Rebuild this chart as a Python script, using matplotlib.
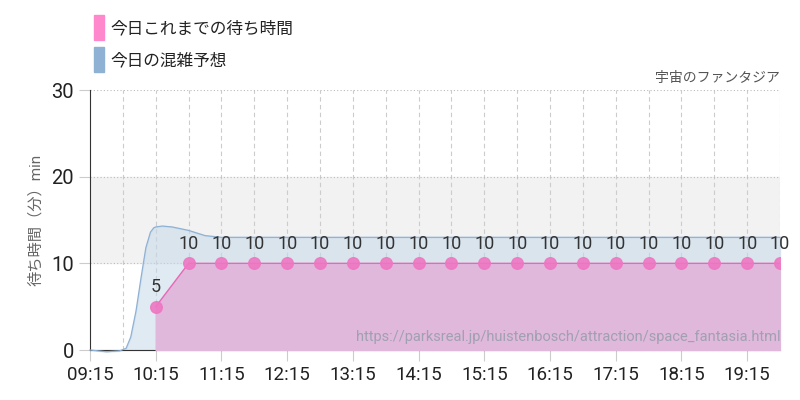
import matplotlib
matplotlib.use("Agg")
import matplotlib.pyplot as plt
import numpy as np
from matplotlib.patches import Rectangle

plt.rcParams['font.family'] = ['Roboto', 'Noto Sans CJK JP', 'DejaVu Sans']

# hours after 09:15
fc_x = [0, 0.25, 0.45, 0.55, 0.62, 0.7, 0.78, 0.85, 0.92, 0.97, 1.0, 1.1, 1.25, 1.5, 1.75, 2.0, 3, 4, 5, 6, 7, 8, 9, 10, 10.5]
fc_y = [0, -0.2, -0.1, 0.2, 1.5, 4.5, 8.5, 11.8, 13.6, 14.1, 14.2, 14.3, 14.2, 13.8, 13.2, 13, 13, 13, 13, 13, 13, 13, 13, 13, 13]
act_x = [1.0 + 0.5 * i for i in range(20)]
act_y = [5] + [10] * 19
tick_labels = ["09:15", "10:15", "11:15", "12:15", "13:15", "14:15", "15:15",
               "16:15", "17:15", "18:15", "19:15"]

fig = plt.figure(figsize=(8, 4), dpi=100)
ax = fig.add_axes([90/800, 50/400, 690/800, 260/400])
ax.set_xlim(0, 10.5)
ax.set_ylim(0, 30)
ax.axhspan(10, 20, color='#f2f2f2', zorder=0)
for v in np.arange(0.5, 10.6, 0.5):
    ax.axvline(v, color='#cccccc', lw=0.8, ls=(0, (4, 3)), zorder=1)
for v in [10, 20, 30]:
    ax.axhline(v, color='#bbbbbb', lw=0.8, ls=(0, (1, 2)), zorder=1)

ax.fill_between(fc_x, fc_y, color='#c6d9ea', alpha=0.55, zorder=2, clip_on=False)
ax.plot(fc_x, fc_y, color='#8fb1d3', lw=0.9, zorder=3, clip_on=False)
ax.fill_between(act_x, act_y, color='#e0b8dc', zorder=4)
ax.plot(act_x, act_y, color='#e867b8', lw=1, zorder=5)
ax.scatter(act_x, act_y, s=70, color='#ee77c2', alpha=0.9, zorder=6)
for x, y in zip(act_x, act_y):
    ax.text(x, y + 1.2, str(y), ha='center', va='bottom', fontsize=13, color='#333333', zorder=7)

ax.set_xticks(np.arange(0, 10.1, 1))
ax.set_xticklabels(tick_labels, fontsize=13.5, color='#222222')
ax.set_yticks([0, 10, 20, 30])
ax.set_yticklabels(['0', '10', '20', '30'], fontsize=14.5, color='#222222')
ax.tick_params(axis='both', length=8, color='#cccccc')
for s in ['top', 'right']:
    ax.spines[s].set_visible(False)
ax.spines['left'].set_color('#333333')
ax.spines['bottom'].set_color('#333333')
ax.set_ylabel('待ち時間（分）min', fontsize=11, color='#666666', labelpad=6)

ax.text(10.5, 0.7, 'https://parksreal.jp/huistenbosch/attraction/space_fantasia.html',
        ha='right', va='bottom', fontsize=10.5, color='#a0a0b0', zorder=8)
fig.text(780/800, 322/400, '宇宙のファンタジア', ha='right', va='center', fontsize=10, color='#555555')

fig.patches.append(Rectangle((94/800, 360/400), 10/800, 25/400, transform=fig.transFigure, color='#ff88cc'))
fig.patches.append(Rectangle((94/800, 328/400), 10/800, 25/400, transform=fig.transFigure, color='#8fb1d3'))
fig.text(110/800, 372/400, '今日これまでの待ち時間', va='center', fontsize=12, color='#222222')
fig.text(110/800, 340/400, '今日の混雑予想', va='center', fontsize=12, color='#222222')

fig.savefig('out.png')
